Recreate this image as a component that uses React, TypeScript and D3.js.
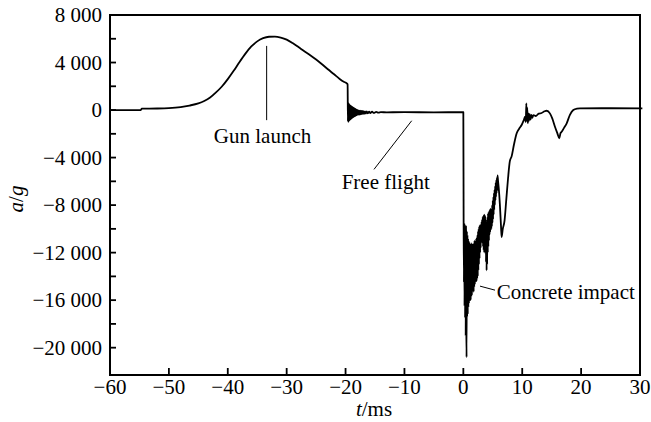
import React from 'react';
import * as d3 from 'd3';

const W = 651;
const H = 422;
const M = { left: 110, right: 11, top: 15, bottom: 47 };
const FONT = "'Times New Roman', Times, 'Liberation Serif', 'Nimbus Roman', FreeSerif, 'DejaVu Serif', serif";

// [t in ms, a/g]
const preLaunch: [number, number][] = [
  [-60, 0], [-54.8, 0], [-54.6, 120], [-52, 130], [-50, 160], [-48, 250],
  [-46.5, 380], [-45, 560], [-44, 760], [-43, 1050],
];

const gunLaunch: [number, number][] = [
  [-42, 1480], [-41, 1980], [-40, 2600], [-39, 3300], [-38, 4050], [-37, 4750],
  [-36, 5350], [-35, 5780], [-34, 6050], [-33, 6170], [-32, 6180], [-31, 6100],
  [-30, 5930], [-29, 5640], [-28, 5300], [-27, 4950], [-26, 4620], [-25, 4250],
  [-24, 3850], [-23, 3430], [-22, 3030], [-21, 2620], [-20.3, 2380], [-19.8, 2250],
  [-19.65, 2150],
];

const launchRinging: [number, number][] = [
  [-19.6, -950], [-19.55, 500], [-19.5, -1000], [-19.45, 550], [-19.4, -900],
  [-19.35, 480], [-19.3, -850], [-19.25, 420], [-19.2, -800], [-19.15, 380],
  [-19.1, -760], [-19.05, 330], [-19.0, -720], [-18.95, 300], [-18.9, -680],
  [-18.85, 260], [-18.8, -640], [-18.75, 220], [-18.7, -600], [-18.65, 190],
  [-18.6, -570], [-18.55, 150], [-18.5, -540], [-18.45, 120], [-18.4, -510],
  [-18.35, 90], [-18.3, -480], [-18.25, 60], [-18.2, -450], [-18.15, 40],
  [-18.1, -430], [-18.0, 10], [-17.9, -410], [-17.8, -20], [-17.7, -390],
  [-17.6, -40], [-17.5, -370], [-17.4, -60], [-17.3, -350], [-17.2, -80],
  [-17.1, -330], [-17.0, -100], [-16.85, -310], [-16.7, -110], [-16.55, -290],
  [-16.4, -120], [-16.2, -280], [-16.0, -130], [-15.8, -260], [-15.5, -140],
  [-15.2, -240], [-14.8, -160], [-14.4, -220], [-14.0, -180],
];

const freeFlight: [number, number][] = [
  [-13, -190], [-10, -180], [-5, -190], [-0.1, -180],
];

// noisy impact record, alternating crest / trough
const concreteImpact: [number, number][] = [
  [0.0, -180], [0.05, -9400], [0.1, -14500], [0.15, -9500], [0.2, -16500],
  [0.25, -9600], [0.3, -17500], [0.35, -9700], [0.4, -19000], [0.45, -9800],
  [0.5, -18000], [0.55, -20800], [0.6, -10200], [0.65, -17400], [0.7, -10500],
  [0.75, -17200], [0.8, -10800], [0.85, -16600], [0.9, -11000], [0.95, -16300],
  [1.0, -11100], [1.05, -16100], [1.1, -11200], [1.15, -15900], [1.2, -11300],
  [1.25, -16000], [1.3, -11500], [1.35, -15700], [1.4, -11200], [1.45, -15600],
  [1.5, -11400], [1.55, -15300], [1.6, -11300], [1.65, -15100], [1.7, -11500],
  [1.75, -15300], [1.8, -11200], [1.85, -14900], [1.9, -11000], [1.95, -14700],
  [2.0, -11300], [2.05, -14500], [2.1, -11000], [2.15, -14300], [2.2, -10800],
  [2.25, -14400], [2.3, -11000], [2.35, -14200], [2.4, -10500], [2.45, -14000],
  [2.5, -10200], [2.55, -13500], [2.6, -10000], [2.65, -13000], [2.7, -9800],
  [2.75, -12500], [2.8, -9700], [2.85, -12000], [2.9, -9800], [2.95, -11600],
  [3.0, -9600], [3.05, -11200], [3.1, -9400], [3.15, -11000], [3.2, -9200],
  [3.25, -11200], [3.3, -9000], [3.35, -11500], [3.4, -8900], [3.45, -11800],
  [3.5, -8850], [3.55, -12000], [3.6, -8800], [3.65, -11500], [3.7, -8900],
  [3.75, -12000], [3.8, -9200], [3.85, -12800], [3.9, -9600], [3.95, -13500],
  [4.0, -9400], [4.05, -13000], [4.1, -9000], [4.15, -12000], [4.2, -8700],
  [4.25, -11500], [4.3, -8600], [4.35, -11000], [4.4, -8500], [4.45, -10500],
  [4.5, -8400], [4.55, -10300], [4.6, -8300], [4.65, -10100], [4.7, -8400],
  [4.75, -10000], [4.8, -8400], [4.85, -9800], [4.9, -8000], [4.95, -9500],
  [5.0, -7600], [5.05, -9200], [5.1, -7300], [5.15, -8800], [5.2, -7000],
  [5.25, -8400], [5.3, -6700], [5.35, -8000], [5.4, -6400], [5.45, -7600],
  [5.5, -6100], [5.55, -7300], [5.6, -5900], [5.65, -7000], [5.7, -5700],
  [5.75, -6800], [5.8, -5500], [5.9, -6000], [6.0, -6500], [6.2, -7900],
  [6.4, -9800], [6.5, -10700], [6.7, -10000], [7.0, -9300], [7.3, -7500],
  [7.6, -5700], [7.9, -4300], [8.2, -3900], [8.6, -2900], [9.06, -1960],
  [9.5, -1550], [9.9, -1260], [10.3, -800], [10.5, -560], [10.6, -1000],
  [10.7, 560], [10.75, -900], [10.85, 200], [10.95, -1100], [11.05, -300],
  [11.15, -900], [11.25, -350], [11.4, -800], [11.55, -400], [11.7, -650],
  [11.9, -420], [12.3, -500], [12.8, -300], [13.3, -250], [13.8, -100],
  [14.15, -60],
];

const recovery: [number, number][] = [
  [14.7, -280], [15.1, -700], [15.56, -1400], [16.0, -2000], [16.29, -2380],
  [16.5, -1950], [16.7, -1830], [17.1, -1500], [17.55, -1120], [18.1, -400],
  [18.67, 0], [19.3, 120], [19.81, 143], [25, 150], [30.4, 140],
];

const xTicks = [-60, -50, -40, -30, -20, -10, 0, 10, 20, 30];
const yTicks = [-20000, -16000, -12000, -8000, -4000, 0, 4000, 8000];
const yMinorTicks = [-18000, -14000, -10000, -6000, -2000, 2000, 6000];

const notes = [
  { label: 'Gun launch', from: [-33.4, 5400], to: [-33.4, -850], at: [-34.1, -2737], anchor: 'middle' },
  { label: 'Free flight', from: [-8.77, -900], to: [-15.17, -4994], at: [-20.66, -6653], anchor: 'start' },
  { label: 'Concrete impact', from: [2.83, -14821], to: [5.38, -15158], at: [5.66, -15900], anchor: 'start' },
];

const trace = [...preLaunch, ...gunLaunch, ...launchRinging, ...freeFlight, ...concreteImpact, ...recovery];

const fmtY = d3.formatLocale({
  decimal: '.', thousands: ' ', grouping: [3], currency: ['', ''], minus: '\u2212',
}).format(',d');
const fmtX = d3.format('d');

export default function App() {
  const x = d3.scaleLinear().domain([-60, 30]).range([M.left, W - M.right]);
  const y = d3.scaleLinear().domain([-22300, 8000]).range([H - M.bottom, M.top]);
  const line = d3.line<[number, number]>()
    .x(d => x(d[0]))
    .y(d => y(d[1]))
    .curve(d3.curveMonotoneX);

  const x0 = x(-60), x1 = x(30), yb = y(-22300), yt = y(8000);

  return (
    <svg width={W} height={H} style={{ position: 'absolute', left: 0, top: 0, background: '#fff' }}>
      <rect x={0} y={0} width={W} height={H} fill="#fff" />
      <g style={{ fontFamily: FONT, fontSize: '21px' }}>

      {/* y ticks */}
      {yTicks.filter(v => v < 8000).map(v => (
        <line key={'y' + v} x1={x0} x2={x0 + 6} y1={y(v)} y2={y(v)} stroke="#000" strokeWidth={1.8} />
      ))}
      {yMinorTicks.map(v => (
        <line key={'ym' + v} x1={x0} x2={x0 + 6} y1={y(v)} y2={y(v)} stroke="#000" strokeWidth={1.8} />
      ))}
      {yTicks.map(v => (
        <text key={'yl' + v} x={x0 - 8} y={y(v)} dy="0.35em" textAnchor="end">{fmtY(v)}</text>
      ))}

      {/* x ticks */}
      {xTicks.slice(1, -1).map(t => (
        <line key={'x' + t} x1={x(t)} x2={x(t)} y1={yb} y2={yb - 7} stroke="#000" strokeWidth={1.8} />
      ))}
      {xTicks.map(t => (
        <text key={'xl' + t} x={x(t)} y={yb + 18.5} textAnchor="middle">{fmtX(t)}</text>
      ))}

      {/* frame */}
      <rect x={x0} y={yt} width={x1 - x0} height={yb - yt} fill="none" stroke="#000" strokeWidth={2} />

      {/* signal */}
      <path d={line(trace) || ''} fill="none" stroke="#000" strokeWidth={1.8} strokeLinejoin="round" />

      {/* annotations */}
      {notes.map(n => (
        <g key={n.label}>
          <line x1={x(n.from[0])} y1={y(n.from[1])} x2={x(n.to[0])} y2={y(n.to[1])} stroke="#000" strokeWidth={1} />
          <text x={x(n.at[0])} y={y(n.at[1])} textAnchor={n.anchor}>{n.label}</text>
        </g>
      ))}

      {/* axis titles */}
      <text x={374} y={416} textAnchor="middle">
        <tspan fontStyle="italic">t</tspan>/ms
      </text>
      <text transform={`translate(23, ${(yt + yb) / 2 + 4}) rotate(-90)`} textAnchor="middle">
        <tspan fontStyle="italic">a</tspan>/<tspan fontStyle="italic">g</tspan>
      </text>
      </g>
    </svg>
  );
}
